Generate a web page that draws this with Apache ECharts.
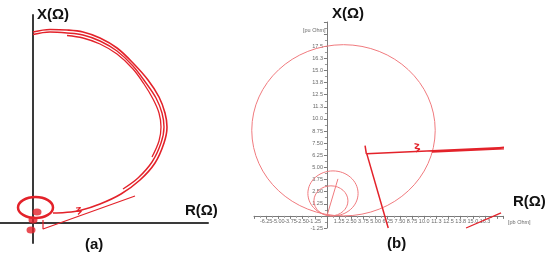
<!DOCTYPE html>
<html>
<head>
<meta charset="utf-8">
<script src="https://cdn.jsdelivr.net/npm/echarts@6/dist/echarts.min.js"></script>
<style>
html,body{margin:0;padding:0;background:#fff;}
#chart{width:550px;height:262px;}
</style>
</head>
<body>
<div id="chart"></div>
<script>
// ---------- Panel (a): impedance trajectory (arbitrary units) ----------
const trajA1 = [[0,19.1],[1.7,19.35],[3.4,19.3],[5.0,19.1],[6.7,18.5],[8.4,17.5],[10.0,16.0],[11.5,14.3],[12.6,12.6],[13.2,11.0],[13.4,9.6],[13.1,8.0],[12.2,6.0],[10.7,4.3],[8.8,2.9],[6.7,1.9],[4.7,1.25],[3.2,1.05],[2.0,1.0]];
const trajA2 = [[0,18.85],[1.7,19.1],[3.4,19.0],[5.0,18.8],[6.7,18.2],[8.4,17.2],[10.0,15.7],[11.3,14.0],[12.3,12.5],[12.9,11.0],[13.1,9.6],[12.8,8.0],[11.9,6.1],[10.5,4.5],[9.0,3.4]];
const trajA3 = [[3.4,18.75],[5.0,18.5],[6.7,17.9],[8.4,16.9],[10.0,15.4],[11.1,13.9],[12.0,12.4],[12.6,11.0],[12.8,9.6],[12.6,8.2],[11.9,6.6]];
const lineA = [[1.0,0.3],[1.0,-0.6],[10.2,2.7]];
const boltA = [[4.3,1.5],[4.75,1.55],[4.35,1.15],[4.85,1.2],[4.5,0.85]];
const ellipseA = [[0.25,1.55,1.75,1.05]];
const blobsA = [[0.4,1.1],[0.0,0.3],[-0.2,-0.7]];

// ---------- Panel (b): R-X plane [pu Ohm] ----------
const circlesB = [[1.70,8.83,9.43,8.83],[0.62,2.32,2.58,2.32],[0.41,1.55,1.75,1.55]];
const originLineB = [[0,0],[1.13,3.82]];
const strokeB = [[3.92,7.25],[4.05,6.4]];
const wedgeB = [[4.05,6.4],[18.2,7.05],[10.8,6.6],[18.2,6.93]];
const dropLineB = [[4.1,6.4],[6.3,-1.25]];
const boltB = [[9.0,7.45],[9.45,7.35],[9.05,7.0],[9.55,6.9],[9.15,6.6]];
const lowLineB = [[14.3,-1.25],[17.9,0.31]];
const xRangeB = [-7.5, 18.1];
const yRangeB = [-1.25, 20];
const tickStepB = 1.25;

const RED = '#e3222a';
const PINK = '#f07a7e';

function fmtTick(v, lim) {
  if (Math.abs(v) < 1e-9) return '';
  if (v > lim + 1e-9) return '';
  return v.toPrecision(3);
}

function ellipseItem(color, width) {
  return function (params, api) {
    const c = api.coord([api.value(0), api.value(1)]);
    const s = api.size([api.value(2), api.value(3)], [api.value(0), api.value(1)]);
    return {
      type: 'ellipse',
      shape: { cx: c[0], cy: c[1], rx: s[0], ry: s[1] },
      style: { fill: 'none', stroke: color, lineWidth: width }
    };
  };
}

// grid (b) layout
const gB = {left: 254, top: 22, width: 249, height: 206};
// move axes (with their labels) onto the zero lines
const yOffB = -gB.width * (0 - xRangeB[0]) / (xRangeB[1] - xRangeB[0]);
const xOffB = -gB.height * (0 - yRangeB[0]) / (yRangeB[1] - yRangeB[0]);

const chart = echarts.init(document.getElementById('chart'), null, {renderer: 'canvas'});
const lbl = {fontFamily: 'Liberation Sans', fontWeight: 'bold', fontSize: 15, fill: '#111'};

const line = (data, xi, color, width, smooth) => ({
  type: 'line', xAxisIndex: xi, yAxisIndex: xi, data: data, showSymbol: false, symbol: 'none',
  smooth: smooth ? 0.35 : false, clip: false, silent: true, animation: false,
  lineStyle: {color: color, width: width}
});

chart.setOption({
  animation: false,
  grid: [
    {left: 0, top: 15, width: 208, height: 228},
    gB
  ],
  xAxis: [
    {type: 'value', gridIndex: 0, min: -3.3, max: 17.5,
     axisLine: {onZero: true, lineStyle: {color: '#3a3a3a', width: 2}},
     axisTick: {show: false}, axisLabel: {show: false}, splitLine: {show: false}},
    {type: 'value', gridIndex: 1, min: xRangeB[0], max: xRangeB[1], interval: tickStepB,
     position: 'bottom', offset: xOffB,
     axisLine: {onZero: false, lineStyle: {color: '#7a7a7a', width: 1}},
     axisTick: {length: 3, lineStyle: {color: '#7a7a7a'}},
     minorTick: {show: true, splitNumber: 2, length: 2, lineStyle: {color: '#9a9a9a'}},
     axisLabel: {fontSize: 5.5, color: '#6a6a6a', margin: 3, showMinLabel: false, formatter: v => fmtTick(v, 16.3)},
     splitLine: {show: false}}
  ],
  yAxis: [
    {type: 'value', gridIndex: 0, min: -2, max: 20.8,
     axisLine: {onZero: true, lineStyle: {color: '#3a3a3a', width: 2}},
     axisTick: {show: false}, axisLabel: {show: false}, splitLine: {show: false}},
    {type: 'value', gridIndex: 1, min: yRangeB[0], max: yRangeB[1], interval: tickStepB,
     position: 'left', offset: yOffB,
     axisLine: {onZero: false, lineStyle: {color: '#7a7a7a', width: 1}},
     axisTick: {length: 3, lineStyle: {color: '#7a7a7a'}},
     minorTick: {show: true, splitNumber: 2, length: 2, lineStyle: {color: '#9a9a9a'}},
     axisLabel: {fontSize: 5.5, color: '#6a6a6a', margin: 4, showMinLabel: true, formatter: v => fmtTick(v, 17.5)},
     splitLine: {show: false}}
  ],
  series: [
    line(trajA1, 0, RED, 1.6, true),
    line(trajA2, 0, RED, 1.4, true),
    line(trajA3, 0, RED, 1.3, true),
    line(lineA, 0, RED, 1.2, false),
    line(boltA, 0, RED, 1.2, false),
    {type: 'custom', xAxisIndex: 0, yAxisIndex: 0, data: ellipseA, silent: true,
     encode: {x: 0, y: 1}, renderItem: ellipseItem(RED, 2.5)},
    {type: 'scatter', xAxisIndex: 0, yAxisIndex: 0, data: blobsA, symbol: 'circle',
     symbolSize: [9, 7], itemStyle: {color: RED}, silent: true},
    {type: 'custom', xAxisIndex: 1, yAxisIndex: 1, data: circlesB, silent: true,
     encode: {x: 0, y: 1}, renderItem: ellipseItem(PINK, 1)},
    line(originLineB, 1, PINK, 1, false),
    line(strokeB, 1, RED, 1.5, false),
    line(wedgeB, 1, RED, 1.5, false),
    line(dropLineB, 1, RED, 1.5, false),
    line(boltB, 1, RED, 1.3, false),
    line(lowLineB, 1, RED, 1.3, false)
  ],
  graphic: [
    {type: 'text', left: 37, top: 7, style: Object.assign({text: 'X(Ω)'}, lbl)},
    {type: 'text', left: 185, top: 203, style: Object.assign({text: 'R(Ω)'}, lbl)},
    {type: 'text', left: 85, top: 237, style: Object.assign({text: '(a)'}, lbl)},
    {type: 'text', left: 332, top: 6, style: Object.assign({text: 'X(Ω)'}, lbl)},
    {type: 'text', left: 513, top: 194, style: Object.assign({text: 'R(Ω)'}, lbl)},
    {type: 'text', left: 387, top: 236, style: Object.assign({text: '(b)'}, lbl)},
    {type: 'text', left: 303, top: 27, style: {text: '[pu Ohm]', fontSize: 5.5, fill: '#6a6a6a'}},
    {type: 'text', left: 508, top: 219, style: {text: '[pb Ohm]', fontSize: 5.5, fill: '#6a6a6a'}}
  ]
});
</script>
</body>
</html>
